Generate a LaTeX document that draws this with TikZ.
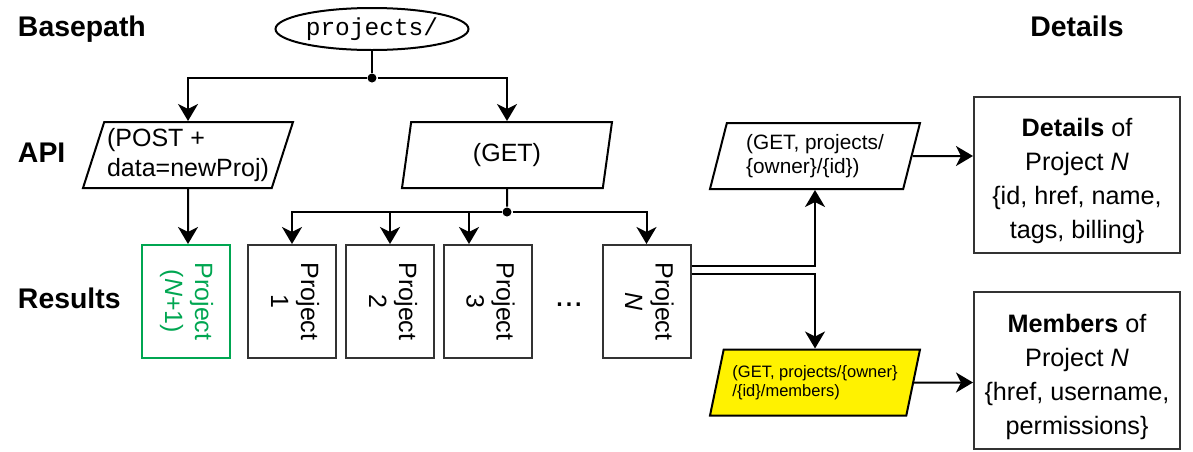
\documentclass[tikz,border=0pt]{standalone}
\usepackage{fontspec}
\setmainfont{Liberation Sans}
\setmonofont{Liberation Mono}
\usetikzlibrary{shapes.geometric,arrows.meta}
\definecolor{projgreen}{RGB}{0,166,81}
\definecolor{memyellow}{RGB}{255,242,0}
\definecolor{boxgray}{RGB}{51,51,51}
\newcommand{\projlabel}[1]{\rotatebox{-90}{\begin{tabular}{@{}c@{}}Project\\#1\end{tabular}}}

\begin{document}
\begin{tikzpicture}[x=0.5pt,y=-0.5pt,line width=1pt,
  >={Stealth[length=8.5pt,width=10pt,inset=2.5pt]},
  row/.style={anchor=base west,inner sep=0pt,font=\fontsize{14.2}{17}\selectfont\bfseries},
  api/.style={draw,trapezium,trapezium left angle=68.5,trapezium right angle=111.5,
    trapezium stretches body,minimum width=105pt,minimum height=33pt,inner sep=0pt,
    align=left,font=\fontsize{12.5}{15.3}\selectfont},
  proj/.style={draw=boxgray,minimum width=44pt,minimum height=56.5pt,inner sep=0pt,
    font=\fontsize{12.5}{15}\selectfont},
  info/.style={draw=boxgray,minimum width=103pt,minimum height=78pt,inner sep=0pt},
  infotext/.style={inner sep=0pt,align=center,font=\fontsize{12.6}{17}\selectfont},
  dot/.style={circle,fill,inner sep=0pt,minimum size=4.5pt}]
\useasboundingbox (0,0) rectangle (1193,451);

\node[row] (basepath) at (17,36) {Basepath};
\node[row] (apirow) at (17,162) {API};
\node[row] (results) at (17,308) {Results};
\node[row,anchor=base] (details) at (1077,36) {Details};

\node[draw,ellipse,minimum width=96.5pt,minimum height=21pt,inner sep=0pt,
  font=\ttfamily\fontsize{12.25}{14}\selectfont] (base) at (372,29) {projects/};
\node[dot] (split) at (372,78) {};

\node[api] (post) at (188,155) {(POST +\\data=newProj)};
\node[api] (get) at (507,155) {(GET)};
\node[dot] (fan) at (507,212) {};

\node[proj,draw=projgreen,text=projgreen] (pnew) at (186,301.5) {\projlabel{(\textit{N}+1)}};
\node[proj] (p1) at (292,301.5) {\projlabel{1}};
\node[proj] (p2) at (390,301.5) {\projlabel{2}};
\node[proj] (p3) at (487.5,301.5) {\projlabel{3}};
\node[anchor=base,inner sep=0pt,font=\fontsize{17}{20}\selectfont] (more) at (569,306) {...};
\node[proj] (pn) at (646.5,301.5) {\projlabel{\textit{N}}};

\node[api,font=\fontsize{10.4}{11.7}\selectfont] (gd) at (815,156) {(GET, projects/\\\{owner\}/\{id\})};
\node[api,fill=memyellow,font=\fontsize{8.25}{9.7}\selectfont] (ym) at (815,382.5) {(GET, projects/\{owner\}\\/\{id\}/members)};

\node[info] (det) at (1077,175) {};
\node[infotext] (dettext) at (1077,181) {\textbf{Details} of\\Project \textit{N}\\\{id, href, name,\\tags, billing\}};
\node[info,minimum height=78.5pt] (mem) at (1077,370.5) {};
\node[infotext] (memtext) at (1077,377) {\textbf{Members} of\\Project \textit{N}\\\{href, username,\\permissions\}};

\draw (base) -- (split);
\draw[->] (split) -| (post);
\draw[->] (split) -| (get);
\draw[->] (post) -- (post |- pnew.north);
\draw (get) -- (fan);
\draw[->] (fan) -| (p1);
\draw[->] (fan) -| (p2);
\draw[->] (fan) -| ([xshift=-9.25pt]p3.north);
\draw[->] (fan) -| (pn);
\draw[->] ([yshift=17.75pt]pn.east) -| (gd);
\draw[->] ([yshift=13.75pt]pn.east) -| (ym);
\draw[->] (gd) -- (gd -| det.west);
\draw[->] (ym) -- (ym -| mem.west);
\end{tikzpicture}
\end{document}
